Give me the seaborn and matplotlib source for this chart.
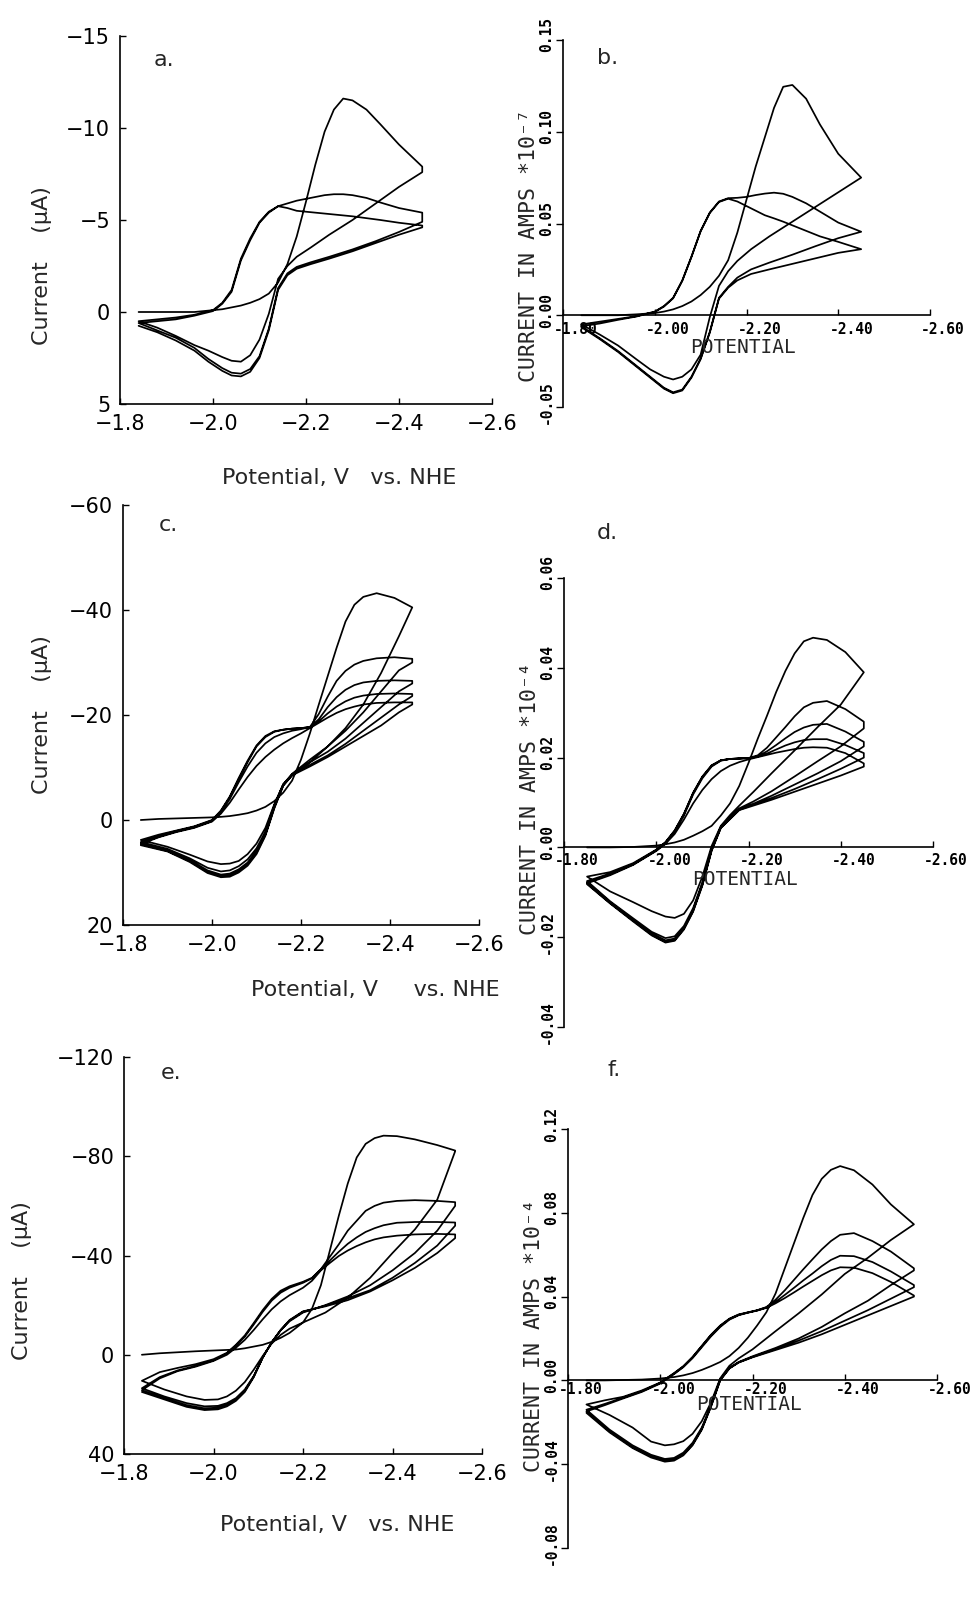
#cyclic voltammograms, measured (left) vs simulated (right)

import pandas as pd
import matplotlib
matplotlib.use("Agg")
import matplotlib.pyplot as plt
from matplotlib.transforms import ScaledTranslation
import seaborn as sns

#panel a: measured, current in uA, 3 cycles
a_E_fwd = [-1.84, -1.88, -1.92, -1.96, -2.00, -2.02, -2.04, -2.06, -2.08, -2.10, -2.12, -2.14, -2.16, -2.18, -2.20, -2.22, -2.24, -2.26, -2.28, -2.30, -2.33, -2.36, -2.40, -2.45]
a_E_rev = [-2.45, -2.40, -2.35, -2.30, -2.25, -2.21, -2.18, -2.16, -2.14, -2.12, -2.10, -2.08, -2.06, -2.04, -2.02, -1.99, -1.96, -1.92, -1.88, -1.84]
a_fwd_1 = [0.0, 0.0, 0.0, 0.0, -0.1, -0.15, -0.25, -0.35, -0.5, -0.7, -1.0, -1.6, -2.6, -4.1, -6.0, -8.0, -9.8, -11.0, -11.6, -11.5, -11.0, -10.2, -9.1, -7.9]
a_rev_1 = [-7.6, -6.8, -5.9, -5.0, -4.2, -3.5, -3.0, -2.5, -1.8, 0.1, 1.5, 2.35, 2.7, 2.65, 2.45, 2.1, 1.8, 1.3, 0.85, 0.5]
a_fwd_2 = [0.5, 0.4, 0.3, 0.15, -0.1, -0.5, -1.2, -2.9, -4.0, -4.9, -5.45, -5.75, -5.9, -6.05, -6.15, -6.25, -6.35, -6.4, -6.4, -6.35, -6.2, -5.95, -5.65, -5.4]
a_rev_2 = [-4.9, -4.35, -3.85, -3.4, -3.0, -2.7, -2.45, -2.1, -1.3, 0.9, 2.4, 3.1, 3.35, 3.3, 3.05, 2.55, 1.95, 1.4, 1.0, 0.6]
a_fwd_3 = [0.6, 0.5, 0.4, 0.2, -0.05, -0.45, -1.1, -2.8, -3.9, -4.85, -5.4, -5.75, -5.65, -5.5, -5.45, -5.4, -5.35, -5.3, -5.25, -5.2, -5.1, -5.0, -4.85, -4.7]
a_rev_3 = [-4.6, -4.2, -3.75, -3.3, -2.9, -2.6, -2.35, -2.0, -1.2, 1.0, 2.5, 3.25, 3.5, 3.45, 3.2, 2.7, 2.1, 1.55, 1.1, 0.75]

#panel b: simulated, amps * 10^-7
b_E_fwd = [-1.84, -1.88, -1.92, -1.96, -2.00, -2.02, -2.04, -2.06, -2.08, -2.10, -2.12, -2.14, -2.16, -2.18, -2.20, -2.22, -2.24, -2.26, -2.28, -2.30, -2.33, -2.36, -2.40, -2.45]
b_E_rev = [-2.45, -2.40, -2.35, -2.30, -2.25, -2.21, -2.18, -2.16, -2.14, -2.12, -2.10, -2.08, -2.06, -2.04, -2.02, -1.99, -1.96, -1.92, -1.88, -1.84]
b_fwd_1 = [0.0, 0.0, 0.0, 0.0005, 0.0012, 0.002, 0.0032, 0.005, 0.0075, 0.011, 0.0155, 0.0215, 0.03, 0.045, 0.063, 0.081, 0.097, 0.113, 0.1245, 0.1255, 0.118, 0.104, 0.088, 0.075]
b_rev_1 = [0.075, 0.067, 0.059, 0.051, 0.043, 0.036, 0.0296, 0.024, 0.016, -0.001, -0.0215, -0.0295, -0.0335, -0.035, -0.0335, -0.0295, -0.024, -0.0165, -0.0105, -0.005]
b_fwd_2 = [-0.005, -0.0035, -0.002, -0.0005, 0.002, 0.005, 0.0095, 0.019, 0.032, 0.046, 0.056, 0.062, 0.0638, 0.064, 0.0645, 0.0655, 0.0663, 0.0668, 0.0662, 0.0645, 0.061, 0.0565, 0.0505, 0.0455]
b_rev_2 = [0.0455, 0.042, 0.0376, 0.033, 0.0287, 0.025, 0.0205, 0.0155, 0.0095, -0.009, -0.0235, -0.0335, -0.0405, -0.042, -0.0395, -0.0335, -0.0275, -0.0195, -0.0125, -0.006]
b_fwd_3 = [-0.006, -0.0045, -0.0025, -0.0007, 0.0018, 0.0047, 0.0092, 0.0187, 0.0317, 0.0457, 0.0557, 0.0617, 0.0635, 0.062, 0.0595, 0.057, 0.0545, 0.0528, 0.051, 0.049, 0.046, 0.043, 0.040, 0.036]
b_rev_3 = [0.036, 0.034, 0.031, 0.028, 0.025, 0.0225, 0.019, 0.015, 0.009, -0.0095, -0.024, -0.034, -0.041, -0.0425, -0.040, -0.034, -0.028, -0.020, -0.013, -0.0065]

#panel c: measured, 5 cycles
c_E_fwd = [-1.84, -1.88, -1.92, -1.96, -2.00, -2.02, -2.04, -2.06, -2.08, -2.10, -2.12, -2.14, -2.16, -2.18, -2.20, -2.22, -2.24, -2.26, -2.28, -2.30, -2.32, -2.34, -2.37, -2.41, -2.45]
c_E_rev = [-2.45, -2.42, -2.38, -2.34, -2.30, -2.26, -2.22, -2.18, -2.16, -2.14, -2.12, -2.10, -2.08, -2.06, -2.04, -2.02, -1.99, -1.95, -1.90, -1.84]
c_fwd_1 = [0.0, -0.2, -0.3, -0.4, -0.5, -0.6, -0.75, -1.0, -1.3, -1.8, -2.5, -3.6, -5.2, -7.5, -11.5, -16.5, -22.0, -27.4, -32.8, -37.8, -41.0, -42.5, -43.2, -42.3, -40.5]
c_rev_1 = [-40.5, -35.0, -28.0, -22.0, -17.5, -14.0, -11.0, -8.5, -6.8, -3.0, 1.5, 4.5, 6.5, 7.8, 8.3, 8.4, 7.9, 6.6, 5.1, 3.8]
c_fwd_2 = [3.8, 2.8, 2.0, 1.2, 0.0, -1.8, -4.5, -8.0, -11.3, -14.2, -16.0, -16.9, -17.2, -17.4, -17.5, -17.7, -20.2, -23.5, -26.5, -28.4, -29.6, -30.3, -30.8, -31.0, -30.7]
c_rev_2 = [-30.0, -28.5, -24.5, -20.5, -17.0, -14.0, -11.5, -8.8, -6.8, -2.8, 2.2, 5.4, 7.5, 8.8, 9.6, 9.8, 9.1, 7.3, 5.5, 4.2]
c_fwd_3 = [4.2, 3.0, 2.1, 1.3, 0.1, -1.7, -4.3, -7.8, -11.0, -14.0, -15.8, -16.8, -17.2, -17.4, -17.5, -17.7, -19.2, -21.5, -23.4, -24.8, -25.7, -26.2, -26.5, -26.6, -26.5]
c_rev_3 = [-26.0, -24.5, -21.5, -18.5, -15.5, -13.0, -11.0, -8.7, -6.7, -2.6, 2.6, 5.9, 8.1, 9.4, 10.2, 10.4, 9.6, 7.6, 5.7, 4.4]
c_fwd_4 = [4.4, 3.2, 2.2, 1.4, 0.2, -1.5, -4.0, -7.2, -10.2, -12.8, -14.6, -15.8, -16.5, -17.0, -17.3, -17.7, -18.8, -20.3, -21.6, -22.6, -23.3, -23.7, -24.0, -24.1, -24.0]
c_rev_4 = [-23.6, -22.0, -19.5, -17.0, -14.5, -12.3, -10.5, -8.6, -6.6, -2.4, 2.8, 6.2, 8.4, 9.7, 10.5, 10.7, 9.9, 7.8, 5.9, 4.6]
c_fwd_5 = [4.6, 3.3, 2.3, 1.5, 0.3, -1.2, -3.3, -5.8, -8.2, -10.3, -12.0, -13.4, -14.6, -15.6, -16.5, -17.5, -18.5, -19.5, -20.4, -21.1, -21.6, -22.0, -22.3, -22.4, -22.4]
c_rev_5 = [-22.0, -20.5, -18.0, -16.0, -14.0, -12.0, -10.2, -8.5, -6.5, -2.2, 3.0, 6.5, 8.7, 10.0, 10.8, 10.9, 10.1, 8.0, 6.0, 4.8]

#panel d: simulated, amps * 10^-4
d_E_fwd = [-1.85, -1.90, -1.95, -2.00, -2.02, -2.04, -2.06, -2.08, -2.10, -2.12, -2.14, -2.16, -2.18, -2.20, -2.22, -2.24, -2.26, -2.28, -2.30, -2.32, -2.34, -2.37, -2.41, -2.45]
d_E_rev = [-2.45, -2.40, -2.35, -2.30, -2.25, -2.21, -2.18, -2.16, -2.14, -2.12, -2.10, -2.08, -2.06, -2.04, -2.02, -1.99, -1.95, -1.90, -1.85]
d_fwd_1 = [0.0, 0.0, 0.0001, 0.0004, 0.0007, 0.0011, 0.0017, 0.0026, 0.0036, 0.0048, 0.0071, 0.0098, 0.0137, 0.0188, 0.0242, 0.0293, 0.0346, 0.0393, 0.0432, 0.0459, 0.0467, 0.0462, 0.0435, 0.039]
d_rev_1 = [0.039, 0.0318, 0.0268, 0.0216, 0.0165, 0.0123, 0.0093, 0.0072, 0.0048, 0.0003, -0.0065, -0.0118, -0.0148, -0.0157, -0.0154, -0.0142, -0.0122, -0.0098, -0.0065]
d_fwd_2 = [-0.0065, -0.0055, -0.0035, -0.0005, 0.0012, 0.0038, 0.0075, 0.0122, 0.0158, 0.0183, 0.0194, 0.0197, 0.0198, 0.0199, 0.0205, 0.0222, 0.0245, 0.0268, 0.0292, 0.0312, 0.0322, 0.0326, 0.0308, 0.028]
d_rev_2 = [0.0265, 0.0225, 0.0192, 0.0158, 0.0125, 0.0102, 0.0087, 0.0068, 0.0046, -0.0003, -0.0078, -0.0135, -0.0175, -0.0198, -0.0202, -0.0188, -0.0158, -0.012, -0.0075]
d_fwd_3 = [-0.0075, -0.0058, -0.0037, -0.0006, 0.0011, 0.0037, 0.0074, 0.0121, 0.0157, 0.0182, 0.0194, 0.0197, 0.0198, 0.0199, 0.0203, 0.0214, 0.0228, 0.0243, 0.0257, 0.0267, 0.0273, 0.0275, 0.0258, 0.0235]
d_rev_3 = [0.0225, 0.0192, 0.0165, 0.014, 0.0115, 0.0097, 0.0085, 0.0066, 0.0045, -0.0005, -0.0081, -0.0139, -0.0179, -0.0203, -0.0207, -0.0192, -0.0161, -0.0122, -0.0078]
d_fwd_4 = [-0.0078, -0.006, -0.0038, -0.0007, 0.001, 0.0035, 0.0071, 0.0118, 0.0154, 0.018, 0.0193, 0.0197, 0.0198, 0.0199, 0.0202, 0.0209, 0.0218, 0.0227, 0.0234, 0.0239, 0.0241, 0.0241, 0.0228, 0.021]
d_rev_4 = [0.020, 0.0175, 0.0152, 0.013, 0.011, 0.0095, 0.0084, 0.0064, 0.0044, -0.0006, -0.0083, -0.0141, -0.0181, -0.0206, -0.021, -0.0194, -0.0163, -0.0124, -0.008]
d_fwd_5 = [-0.008, -0.0062, -0.0039, -0.0008, 0.0008, 0.003, 0.0062, 0.0098, 0.0128, 0.0152, 0.017, 0.0182, 0.019, 0.0196, 0.0201, 0.0206, 0.0211, 0.0215, 0.0219, 0.0222, 0.0223, 0.0222, 0.021, 0.0187]
d_rev_5 = [0.018, 0.016, 0.0142, 0.0124, 0.0106, 0.0093, 0.0083, 0.0063, 0.0043, -0.0008, -0.0085, -0.0143, -0.0183, -0.0208, -0.0212, -0.0196, -0.0165, -0.0125, -0.0082]

#panel e: measured, 4 cycles
e_E_fwd = [-1.84, -1.88, -1.92, -1.96, -2.00, -2.03, -2.05, -2.07, -2.09, -2.11, -2.13, -2.15, -2.17, -2.20, -2.22, -2.24, -2.26, -2.28, -2.30, -2.32, -2.34, -2.36, -2.38, -2.41, -2.45, -2.50, -2.54]
e_E_rev = [-2.54, -2.50, -2.45, -2.40, -2.35, -2.30, -2.25, -2.20, -2.17, -2.15, -2.13, -2.11, -2.09, -2.07, -2.05, -2.03, -2.01, -1.98, -1.94, -1.89, -1.84]
e_fwd_1 = [0.0, -0.6, -1.0, -1.4, -1.7, -1.9, -2.1, -2.6, -3.3, -4.0, -5.2, -6.8, -8.8, -13.0, -18.5, -28.0, -42.0, -56.0, -69.0, -79.5, -85.0, -87.3, -88.3, -88.1, -86.8, -84.5, -82.3]
e_rev_1 = [-82.0, -62.5, -50.5, -41.0, -31.0, -23.0, -17.0, -13.0, -10.5, -8.0, -4.5, 0.5, 6.0, 11.0, 14.5, 16.8, 18.0, 18.2, 16.8, 14.0, 10.5]
e_fwd_2 = [10.5, 7.0, 5.3, 3.8, 1.8, -0.8, -4.0, -7.8, -12.8, -18.0, -22.5, -25.8, -27.6, -29.4, -31.0, -34.5, -39.5, -44.5, -50.0, -54.0, -58.0, -60.0, -61.3, -62.0, -62.3, -62.0, -61.5]
e_rev_2 = [-60.0, -50.0, -41.0, -34.0, -28.0, -23.5, -20.0, -17.0, -13.5, -9.8, -5.0, 1.0, 8.5, 14.0, 17.5, 19.5, 20.6, 20.8, 19.5, 16.8, 13.5]
e_fwd_3 = [13.5, 9.0, 6.3, 4.5, 2.2, -0.5, -3.6, -7.3, -12.2, -17.3, -21.8, -25.0, -27.0, -29.0, -30.8, -34.3, -38.0, -41.5, -44.7, -47.3, -49.5, -51.0, -52.2, -53.2, -53.5, -53.5, -53.3]
e_rev_3 = [-52.0, -44.0, -37.0, -31.0, -26.0, -22.8, -19.8, -17.3, -13.8, -9.9, -5.0, 1.1, 8.8, 14.5, 18.0, 20.1, 21.3, 21.6, 20.3, 17.5, 14.3]
e_fwd_4 = [14.3, 9.5, 6.6, 4.8, 2.5, 0.0, -2.8, -6.0, -10.0, -14.3, -18.3, -21.5, -24.0, -27.0, -29.8, -34.0, -37.0, -39.8, -42.0, -43.8, -45.3, -46.5, -47.3, -48.0, -48.5, -48.7, -48.5]
e_rev_4 = [-47.0, -41.0, -35.0, -30.0, -25.5, -22.0, -19.5, -17.5, -14.0, -10.0, -5.0, 1.2, 9.0, 15.0, 18.6, 20.8, 22.0, 22.3, 21.0, 18.0, 15.0]

#panel f: simulated, amps * 10^-4
f_E_fwd = [-1.84, -1.88, -1.92, -1.96, -2.00, -2.03, -2.05, -2.07, -2.09, -2.11, -2.13, -2.15, -2.17, -2.19, -2.21, -2.23, -2.25, -2.27, -2.29, -2.31, -2.33, -2.35, -2.37, -2.39, -2.42, -2.46, -2.50, -2.55]
f_E_rev = [-2.55, -2.50, -2.45, -2.40, -2.35, -2.30, -2.25, -2.20, -2.17, -2.15, -2.13, -2.11, -2.09, -2.07, -2.05, -2.03, -2.01, -1.98, -1.94, -1.89, -1.84]
f_fwd_1 = [0.0, 0.0, 0.0002, 0.0004, 0.0009, 0.0016, 0.0024, 0.0035, 0.005, 0.0068, 0.0088, 0.0116, 0.0155, 0.0204, 0.0262, 0.0325, 0.0415, 0.0535, 0.0655, 0.0775, 0.0885, 0.0962, 0.1005, 0.1023, 0.1003, 0.0935, 0.084, 0.0745]
f_rev_1 = [0.0745, 0.067, 0.0585, 0.0508, 0.041, 0.032, 0.0235, 0.0148, 0.0105, 0.007, 0.001, -0.0105, -0.0195, -0.0255, -0.029, -0.0305, -0.031, -0.0292, -0.0225, -0.0165, -0.0115]
f_fwd_2 = [-0.0115, -0.0095, -0.0078, -0.0048, -0.001, 0.0035, 0.0068, 0.0112, 0.0165, 0.0218, 0.0262, 0.0295, 0.0315, 0.0325, 0.0335, 0.035, 0.0385, 0.043, 0.048, 0.053, 0.0578, 0.0625, 0.0665, 0.0695, 0.0703, 0.0665, 0.0615, 0.0535]
f_rev_2 = [0.0525, 0.0455, 0.038, 0.032, 0.0255, 0.020, 0.0155, 0.0115, 0.0088, 0.006, 0.0005, -0.012, -0.0225, -0.0298, -0.0345, -0.037, -0.0375, -0.0355, -0.031, -0.0235, -0.014]
f_fwd_3 = [-0.014, -0.0112, -0.0082, -0.0052, -0.0012, 0.0033, 0.0066, 0.011, 0.0163, 0.0216, 0.026, 0.0293, 0.0313, 0.0324, 0.0334, 0.0348, 0.0375, 0.0408, 0.0442, 0.0477, 0.051, 0.0545, 0.0575, 0.0595, 0.0593, 0.0565, 0.052, 0.0455]
f_rev_3 = [0.0445, 0.039, 0.0335, 0.0285, 0.0235, 0.019, 0.015, 0.0112, 0.0086, 0.0058, 0.0002, -0.0123, -0.0232, -0.0306, -0.0353, -0.0378, -0.0383, -0.0363, -0.0318, -0.0243, -0.0148]
f_fwd_4 = [-0.0148, -0.0118, -0.0086, -0.0055, -0.0015, 0.003, 0.0063, 0.0106, 0.0158, 0.021, 0.0255, 0.029, 0.0311, 0.0323, 0.0333, 0.0346, 0.0368, 0.0393, 0.042, 0.0448, 0.0475, 0.0502, 0.0525, 0.054, 0.0538, 0.0512, 0.047, 0.0405]
f_rev_4 = [0.040, 0.0355, 0.031, 0.0265, 0.022, 0.018, 0.0145, 0.011, 0.0085, 0.0057, 0.0, -0.0126, -0.0236, -0.031, -0.0358, -0.0383, -0.0388, -0.0368, -0.0323, -0.0248, -0.0155]

#axis ticks and labels
left_xticks = [-1.8, -2.0, -2.2, -2.4, -2.6]
right_xticks = [-1.8, -2.0, -2.2, -2.4, -2.6]
right_xlabels = ["-1.80", "-2.00", "-2.20", "-2.40", "-2.60"]
a_yticks = [-15, -10, -5, 0, 5]
c_yticks = [-60, -40, -20, 0, 20]
e_yticks = [-120, -80, -40, 0, 40]
b_yticks = [-0.05, 0.0, 0.05, 0.10, 0.15]
b_ylabels = ["-0.05", "0.00", "0.05", "0.10", "0.15"]
d_yticks = [-0.04, -0.02, 0.0, 0.02, 0.04, 0.06]
d_ylabels = ["-0.04", "-0.02", "0.00", "0.02", "0.04", "0.06"]
f_yticks = [-0.08, -0.04, 0.0, 0.04, 0.08, 0.12]
f_ylabels = ["-0.08", "-0.04", "0.00", "0.04", "0.08", "0.12"]

sns.set_style("ticks")
plt.rcParams['font.family'] = ['DejaVu Sans']
MONO = 'DejaVu Sans Mono'

W, H = 975, 1605
fig = plt.figure(figsize=(W / 100, H / 100), dpi=100)


def box(l, t, r, b):
    # pixel box -> figure fraction rect
    return [l / W, 1 - b / H, (r - l) / W, (b - t) / H]


def trace(E_fwd, E_rev, cycles):
    E, I = [], []
    for fwd, rev in cycles:
        E += E_fwd + E_rev
        I += fwd + rev
    return pd.DataFrame({"E": E, "I": I})


def draw(ax, df):
    sns.lineplot(data=df, x="E", y="I", sort=False, estimator=None,
                 color="black", linewidth=1.25, ax=ax)
    ax.set_xlabel("")
    ax.set_ylabel("")


def left_axes(ax, ylim, yticks, xlab, xlab_pos, ylab_pos):
    ax.set_xlim(-1.8, -2.6)
    ax.set_ylim(*ylim)
    ax.set_xticks(left_xticks)
    ax.set_yticks(yticks)
    for s in ['top', 'right']:
        ax.spines[s].set_visible(False)
    for s in ['left', 'bottom']:
        ax.spines[s].set_linewidth(1.2)
        ax.spines[s].set_color('black')
    ax.tick_params(direction='in', length=4, width=1.0, labelsize=15, pad=7, colors='black')
    ax.text(xlab_pos[0], xlab_pos[1], xlab, transform=ax.transAxes,
            ha='center', va='center', fontsize=16)
    ax.text(ylab_pos[0], ylab_pos[1], "Current    (\u00b5A)", transform=ax.transAxes,
            ha='center', va='center', rotation=90, fontsize=16)


def right_axes(ax, ylim, yticks, ylabels, exp, ylab_pos, xpad, pot_off):
    ax.set_xlim(-1.8, -2.6)
    ax.set_ylim(*ylim)
    for s in ['top', 'right']:
        ax.spines[s].set_visible(False)
    ax.spines['bottom'].set_position(('data', 0))
    for s in ['left', 'bottom']:
        ax.spines[s].set_linewidth(1.2)
        ax.spines[s].set_color('black')
    ax.set_xticks(right_xticks)
    ax.set_xticklabels(right_xlabels, fontfamily=MONO, fontweight='bold', fontsize=10.5)
    ax.set_yticks(yticks)
    ax.set_yticklabels(ylabels, fontfamily=MONO, fontweight='bold', fontsize=10.5,
                       rotation=90, va='center')
    ax.tick_params(axis='x', direction='in', length=4, width=1.0, pad=xpad, colors='black')
    ax.tick_params(axis='y', direction='out', length=5, width=1.0, pad=1.5, colors='black')
    for lbl in ax.get_xticklabels():
        lbl.set_transform(lbl.get_transform() + ScaledTranslation(0.13, 0, fig.dpi_scale_trans))
    for lbl in ax.get_yticklabels():
        lbl.set_transform(lbl.get_transform() + ScaledTranslation(0, 0.05, fig.dpi_scale_trans))
    ax.annotate("POTENTIAL", xy=(0.49, 0), xycoords=('axes fraction', 'data'),
                xytext=(0, pot_off), textcoords='offset points', ha='center', va='center',
                fontfamily=MONO, fontsize=14)
    ax.text(ylab_pos[0], ylab_pos[1], "CURRENT IN AMPS *10" + exp, transform=ax.transAxes,
            ha='center', va='center', rotation=90, fontfamily=MONO, fontsize=15.5)


#panel a
ax_a = fig.add_axes(box(120, 36, 492, 404))
draw(ax_a, trace(a_E_fwd, a_E_rev, [(a_fwd_1, a_rev_1), (a_fwd_2, a_rev_2), (a_fwd_3, a_rev_3)]))
left_axes(ax_a, (5, -15), a_yticks, "Potential, V   vs. NHE", (0.59, -0.2), (-0.21, 0.375))

#panel b
ax_b = fig.add_axes(box(563, 40, 930, 407))
draw(ax_b, trace(b_E_fwd, b_E_rev, [(b_fwd_1, b_rev_1), (b_fwd_2, b_rev_2), (b_fwd_3, b_rev_3)]))
right_axes(ax_b, (-0.05, 0.15), b_yticks, b_ylabels, "\u207b\u2077", (-0.092, 0.44), 5, -23)

#panel c
ax_c = fig.add_axes(box(123, 505, 479, 925))
draw(ax_c, trace(c_E_fwd, c_E_rev, [(c_fwd_1, c_rev_1), (c_fwd_2, c_rev_2), (c_fwd_3, c_rev_3),
                                   (c_fwd_4, c_rev_4), (c_fwd_5, c_rev_5)]))
left_axes(ax_c, (20, -60), c_yticks, "Potential, V     vs. NHE", (0.71, -0.155), (-0.228, 0.50))

#panel d
ax_d = fig.add_axes(box(564, 578, 933, 1027))
draw(ax_d, trace(d_E_fwd, d_E_rev, [(d_fwd_1, d_rev_1), (d_fwd_2, d_rev_2), (d_fwd_3, d_rev_3),
                                   (d_fwd_4, d_rev_4), (d_fwd_5, d_rev_5)]))
right_axes(ax_d, (-0.04, 0.06), d_yticks, d_ylabels, "\u207b\u2074", (-0.091, 0.51), 4, -23)

#panel e
ax_e = fig.add_axes(box(124, 1057, 482, 1454))
draw(ax_e, trace(e_E_fwd, e_E_rev, [(e_fwd_1, e_rev_1), (e_fwd_2, e_rev_2), (e_fwd_3, e_rev_3),
                                   (e_fwd_4, e_rev_4)]))
left_axes(ax_e, (40, -120), e_yticks, "Potential, V   vs. NHE", (0.595, -0.18), (-0.285, 0.436))

#panel f
ax_f = fig.add_axes(box(568, 1129, 937, 1548))
draw(ax_f, trace(f_E_fwd, f_E_rev, [(f_fwd_1, f_rev_1), (f_fwd_2, f_rev_2), (f_fwd_3, f_rev_3),
                                   (f_fwd_4, f_rev_4)]))
right_axes(ax_f, (-0.08, 0.12), f_yticks, f_ylabels, "\u207b\u2074", (-0.093, 0.508), 1, -17)

#panel letters
for letter, (px, py) in zip("abcdef", [(164, 60), (608, 58), (168, 525), (607, 533), (171, 1073), (614, 1070)]):
    fig.text(px / W, 1 - py / H, letter + ".", ha='center', va='center', fontsize=16)

plt.savefig("out.png", dpi=100)
